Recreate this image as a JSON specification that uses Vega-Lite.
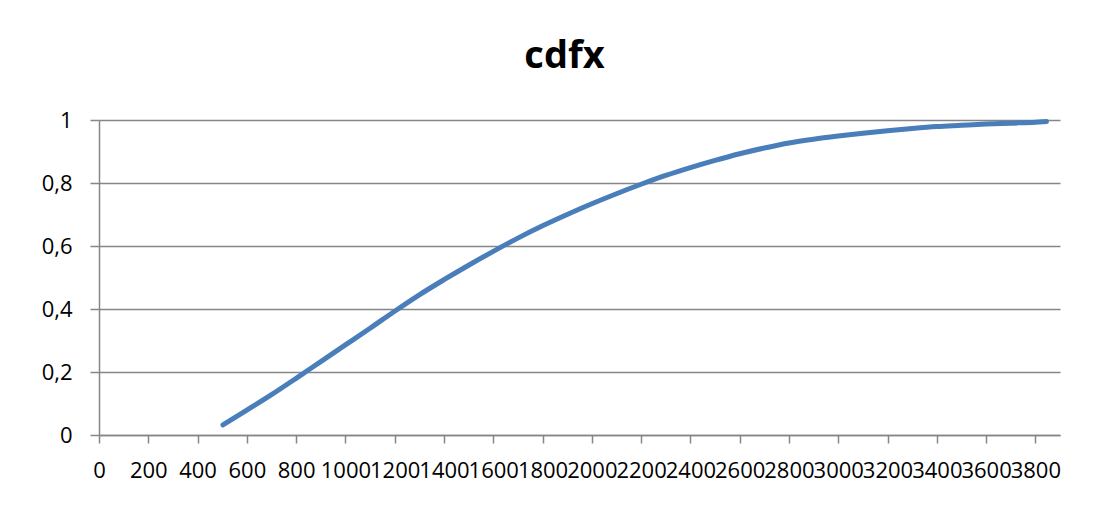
{
  "$schema": "https://vega.github.io/schema/vega-lite/v6.json",
  "width": 961,
  "height": 315,
  "autosize": {"type": "none"},
  "padding": {"left": 99, "top": 120, "right": 47, "bottom": 83},
  "background": "white",
  "config": {
    "view": {"stroke": null},
    "font": "Open Sans"
  },
  "title": {
    "text": "cdfx",
    "font": "Open Sans",
    "fontSize": 38,
    "fontWeight": "bold",
    "color": "#000000",
    "anchor": "middle",
    "dx": -15,
    "offset": 33
  },
  "data": {
    "values": [
      {"x": 503, "cdf": 0.032},
      {"x": 600, "cdf": 0.079},
      {"x": 700, "cdf": 0.128},
      {"x": 800, "cdf": 0.18},
      {"x": 900, "cdf": 0.233},
      {"x": 1000, "cdf": 0.286},
      {"x": 1100, "cdf": 0.339},
      {"x": 1200, "cdf": 0.393},
      {"x": 1300, "cdf": 0.445},
      {"x": 1400, "cdf": 0.493},
      {"x": 1500, "cdf": 0.539},
      {"x": 1600, "cdf": 0.583},
      {"x": 1700, "cdf": 0.625},
      {"x": 1800, "cdf": 0.664},
      {"x": 1900, "cdf": 0.7},
      {"x": 2000, "cdf": 0.734},
      {"x": 2100, "cdf": 0.766},
      {"x": 2200, "cdf": 0.796},
      {"x": 2300, "cdf": 0.824},
      {"x": 2400, "cdf": 0.849},
      {"x": 2500, "cdf": 0.872},
      {"x": 2600, "cdf": 0.893},
      {"x": 2700, "cdf": 0.911},
      {"x": 2800, "cdf": 0.927},
      {"x": 2900, "cdf": 0.939},
      {"x": 3000, "cdf": 0.949},
      {"x": 3100, "cdf": 0.958},
      {"x": 3200, "cdf": 0.966},
      {"x": 3300, "cdf": 0.973},
      {"x": 3400, "cdf": 0.979},
      {"x": 3500, "cdf": 0.983},
      {"x": 3600, "cdf": 0.987},
      {"x": 3700, "cdf": 0.99},
      {"x": 3800, "cdf": 0.993},
      {"x": 3845, "cdf": 0.995}
    ]
  },
  "mark": {
    "type": "line",
    "color": "#4a7ebb",
    "strokeWidth": 5,
    "strokeCap": "round",
    "strokeJoin": "round",
    "interpolate": "monotone"
  },
  "encoding": {
    "x": {
      "field": "x",
      "type": "quantitative",
      "scale": {"domain": [0, 3900], "nice": false, "zero": false},
      "axis": {
        "title": null,
        "grid": false,
        "values": [0, 200, 400, 600, 800, 1000, 1200, 1400, 1600, 1800, 2000, 2200, 2400, 2600, 2800, 3000, 3200, 3400, 3600, 3800],
        "format": "d",
        "labelFont": "Open Sans",
        "labelFontSize": 22,
        "labelColor": "#000000",
        "labelOverlap": false,
        "labelBound": false,
        "labelFlush": false,
        "labelPadding": 17,
        "domainColor": "#868686",
        "domainWidth": 1.5,
        "tickColor": "#868686",
        "tickWidth": 1.5,
        "tickSize": 8
      }
    },
    "y": {
      "field": "cdf",
      "type": "quantitative",
      "scale": {"domain": [0, 1], "nice": false},
      "axis": {
        "title": null,
        "values": [0, 0.2, 0.4, 0.6, 0.8, 1],
        "format": ".1~f",
        "labelExpr": "replace(datum.label, '.', ',')",
        "labelFont": "Open Sans",
        "labelFontSize": 22,
        "labelColor": "#000000",
        "labelPadding": 18,
        "labelOverlap": false,
        "labelBound": false,
        "labelFlush": false,
        "grid": true,
        "gridColor": "#868686",
        "gridWidth": 1.5,
        "domainColor": "#868686",
        "domainWidth": 1.5,
        "tickColor": "#868686",
        "tickWidth": 1.5,
        "tickSize": 9
      }
    }
  }
}
